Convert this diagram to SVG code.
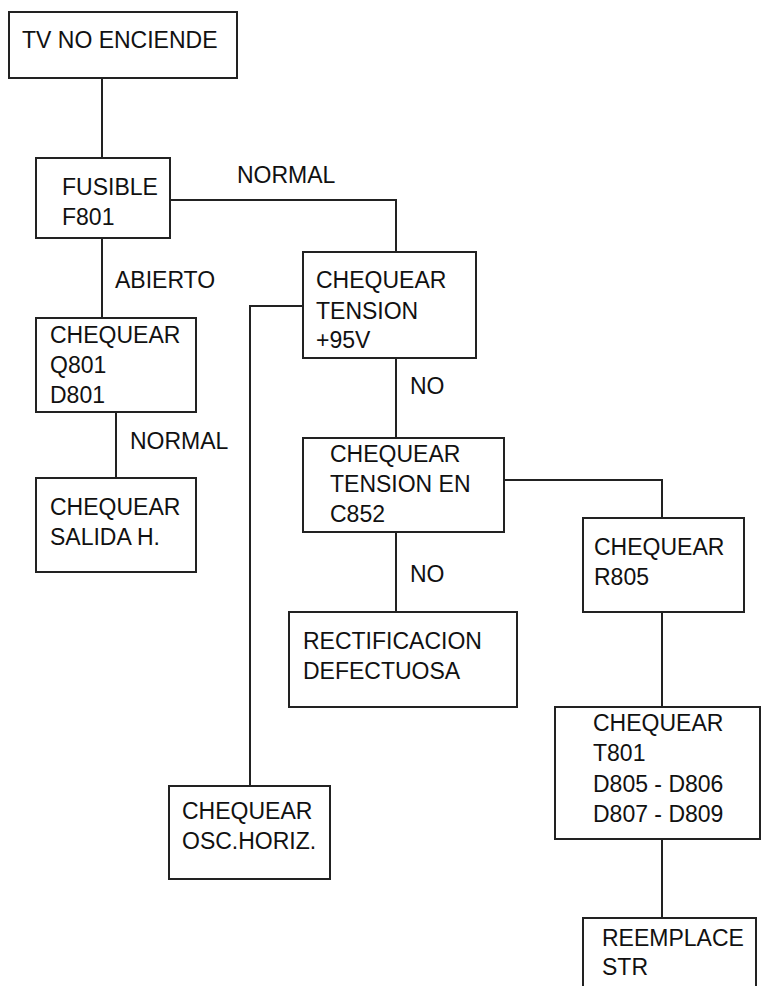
<svg xmlns="http://www.w3.org/2000/svg" width="761" height="986" viewBox="0 0 761 986">
<style>
  .box { fill: #ffffff; stroke: #222222; stroke-width: 2; }
  .conn { fill: none; stroke: #222222; stroke-width: 2; }
  text { font-family: "Liberation Sans", Arial, sans-serif; font-size: 23px; fill: #111111; }
</style>
<rect width="761" height="986" fill="#ffffff"/>
<g id="connectors">
  <path class="conn" d="M102 78 V158"/>
  <path class="conn" d="M170 200 H396 V252"/>
  <path class="conn" d="M102 238 V318"/>
  <path class="conn" d="M116 412 V478"/>
  <path class="conn" d="M302 306 H250 V786"/>
  <path class="conn" d="M396 358 V438"/>
  <path class="conn" d="M502 480 H662 V518"/>
  <path class="conn" d="M396 532 V612"/>
  <path class="conn" d="M662 612 V707"/>
  <path class="conn" d="M662 839 V918"/>
  <text x="237" y="183">NORMAL</text>
  <text x="115" y="288">ABIERTO</text>
  <text x="130" y="449">NORMAL</text>
  <text x="410" y="394">NO</text>
  <text x="410" y="582">NO</text>
</g>
<g id="n1">
  <rect class="box" x="9" y="12" width="228" height="66"/>
  <text x="22" y="48">TV NO ENCIENDE</text>
</g>
<g id="n2">
  <rect class="box" x="36" y="158" width="134" height="80"/>
  <text x="62" y="195">FUSIBLE</text>
  <text x="62" y="225">F801</text>
</g>
<g id="n3">
  <rect class="box" x="36" y="318" width="160" height="94"/>
  <text x="50" y="343">CHEQUEAR</text>
  <text x="50" y="373">Q801</text>
  <text x="50" y="403">D801</text>
</g>
<g id="n4">
  <rect class="box" x="36" y="478" width="160" height="94"/>
  <text x="50" y="515">CHEQUEAR</text>
  <text x="50" y="545">SALIDA H.</text>
</g>
<g id="n5">
  <rect class="box" x="303" y="252" width="173" height="106"/>
  <text x="316" y="288">CHEQUEAR</text>
  <text x="316" y="319">TENSION</text>
  <text x="316" y="348">+95V</text>
</g>
<g id="n6">
  <rect class="box" x="303" y="438" width="201" height="94"/>
  <text x="330" y="462">CHEQUEAR</text>
  <text x="330" y="492">TENSION EN</text>
  <text x="330" y="522">C852</text>
</g>
<g id="n7">
  <rect class="box" x="583" y="518" width="161" height="94"/>
  <text x="594" y="555">CHEQUEAR</text>
  <text x="594" y="585">R805</text>
</g>
<g id="n8">
  <rect class="box" x="289" y="612" width="228" height="95"/>
  <text x="303" y="649">RECTIFICACION</text>
  <text x="303" y="679">DEFECTUOSA</text>
</g>
<g id="n9">
  <rect class="box" x="169" y="786" width="161" height="93"/>
  <text x="182" y="819">CHEQUEAR</text>
  <text x="182" y="849">OSC.HORIZ.</text>
</g>
<g id="n10">
  <rect class="box" x="555" y="707" width="205" height="132"/>
  <text x="593" y="731">CHEQUEAR</text>
  <text x="593" y="761">T801</text>
  <text x="593" y="792">D805 - D806</text>
  <text x="593" y="822">D807 - D809</text>
</g>
<g id="n11">
  <rect class="box" x="583" y="918" width="173" height="80"/>
  <text x="602" y="946">REEMPLACE</text>
  <text x="602" y="975">STR</text>
</g>
</svg>
